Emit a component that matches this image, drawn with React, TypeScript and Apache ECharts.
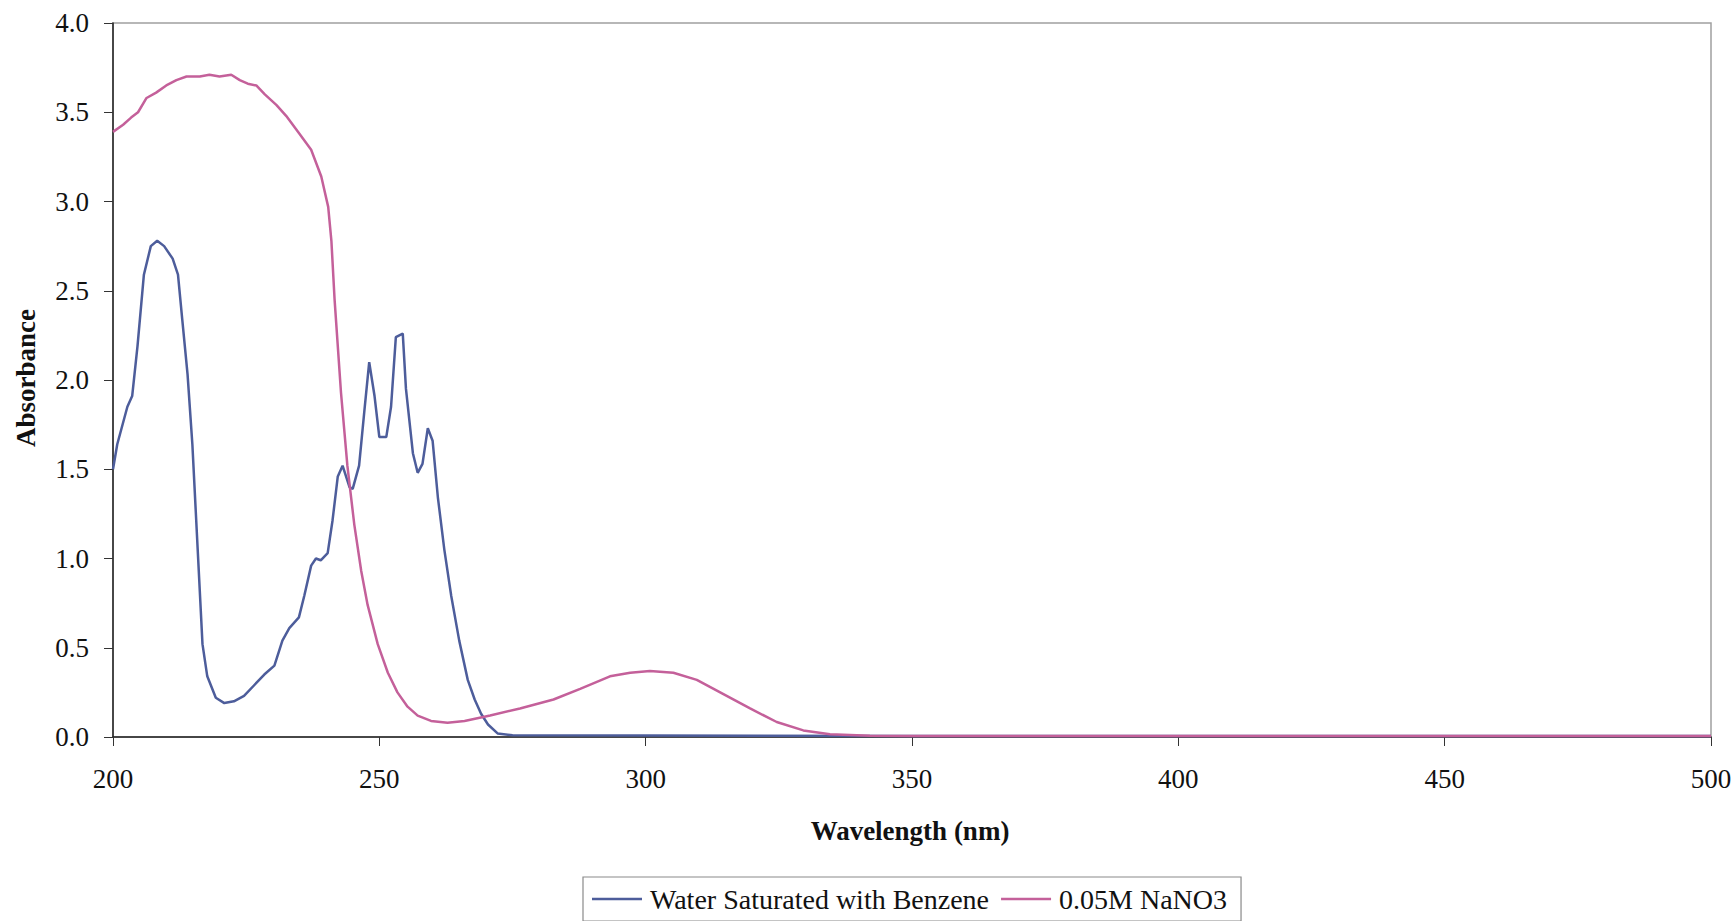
import React, { useEffect, useRef } from "react";
import * as echarts from "echarts";

const seriesNames = ["Water Saturated with Benzene", "0.05M NaNO3"];

const benzeneWl = [
  200, 200.8, 202.7, 203.6, 204.6, 205.8, 207.1, 208.3, 209.6, 211.2, 212.2, 213.0, 214.0, 214.9,
  215.9, 216.8, 217.7, 219.3, 220.9, 222.7, 224.6, 226.5, 228.4, 230.3, 231.8, 233.1, 234.9, 235.9,
  237.2, 238.1, 239.0, 240.3, 241.2, 242.2, 243.1, 244.4, 245.0, 246.2, 247.2, 248.1, 249.1, 250.0,
  251.3, 252.2, 253.1, 254.4, 255.0, 256.3, 257.2, 258.1, 259.1, 260.0, 261.0, 262.2, 263.5, 265.0,
  266.6, 267.9, 269.1, 270.4, 272.2, 275, 300, 350, 400, 450, 500,
];
const benzeneAbs = [
  1.5, 1.64, 1.85, 1.91, 2.19, 2.59, 2.75, 2.78, 2.75, 2.68, 2.59, 2.34, 2.03, 1.64,
  1.05, 0.52, 0.34, 0.22, 0.19, 0.2, 0.23, 0.29, 0.35, 0.4, 0.54, 0.61, 0.67, 0.79,
  0.96, 1.0, 0.99, 1.03, 1.21, 1.46, 1.52, 1.4, 1.39, 1.52, 1.83, 2.1, 1.91, 1.68,
  1.68, 1.85, 2.24, 2.26, 1.95, 1.59, 1.48, 1.53, 1.73, 1.66, 1.34, 1.05, 0.79, 0.54,
  0.32, 0.21, 0.13, 0.07, 0.02, 0.01, 0.008, 0.006, 0.006, 0.006, 0.006,
];

const nitrateWl = [
  200, 201.9, 203.4, 204.7, 206.3, 208.1, 210.0, 211.9, 213.8, 216.3, 218.1, 220.0, 222.2, 223.8,
  225.3, 226.9, 228.5, 230.7, 232.5, 235.0, 237.2, 239.1, 240.4, 241.0, 241.6, 242.8, 244.0, 245.3,
  246.6, 247.8, 249.7, 251.6, 253.4, 255.3, 257.2, 259.7, 262.8, 266.0, 270.8, 276.4, 282.7, 287.7,
  293.3, 297.1, 300.8, 305.2, 309.6, 314.6, 319.6, 324.6, 329.6, 334.6, 342.1, 350, 400, 450, 500,
];
const nitrateAbs = [
  3.39, 3.43, 3.47, 3.5, 3.58, 3.61, 3.65, 3.68, 3.7, 3.7, 3.71, 3.7, 3.71, 3.68,
  3.66, 3.65, 3.6, 3.54, 3.48, 3.38, 3.29, 3.14, 2.97, 2.78, 2.45, 1.93, 1.52, 1.19,
  0.93, 0.74, 0.52, 0.36, 0.25, 0.17, 0.12, 0.09, 0.08, 0.09, 0.12, 0.16, 0.21, 0.27,
  0.34, 0.36, 0.37, 0.36, 0.32, 0.24, 0.16, 0.084, 0.037, 0.015, 0.007, 0.005, 0.006, 0.006, 0.005,
];

const FONT = "Liberation Serif";

export default function App() {
  const ref = useRef<HTMLDivElement>(null);
  useEffect(() => {
    if (!ref.current) return;
    const chart = echarts.init(ref.current, undefined, { renderer: "svg" });
    const pairs = (xs: number[], ys: number[]) => xs.map((x, i) => [x, ys[i]]);
    chart.setOption({
      animation: false,
      backgroundColor: "#ffffff",
      textStyle: { fontFamily: FONT },
      grid: {
        left: 113,
        right: 25,
        top: 23,
        bottom: 184,
        show: true,
        borderColor: "#a0a0a0",
        borderWidth: 1.5,
      },
      legend: {
        left: 583,
        top: 877,
        orient: "horizontal",
        icon: "path://M0,0 L50,0 L50,2.5 L0,2.5 Z",
        itemWidth: 50,
        itemHeight: 28,
        itemGap: 12,
        padding: [8, 14, 8, 9],
        borderColor: "#8a8a8a",
        borderWidth: 1.2,
        textStyle: { fontFamily: FONT, fontSize: 28, color: "#111", padding: [0, 0, 0, 3] },
        data: seriesNames,
      },
      xAxis: {
        type: "value",
        min: 200,
        max: 500,
        interval: 50,
        splitLine: { show: false },
        axisLine: { show: true, onZero: false, lineStyle: { color: "#222", width: 1.5 } },
        axisTick: { show: true, length: 9, lineStyle: { color: "#333" } },
        axisLabel: { margin: 28, fontFamily: FONT, fontSize: 27, color: "#111" },
      },
      yAxis: {
        type: "value",
        min: 0,
        max: 4,
        interval: 0.5,
        splitLine: { show: false },
        axisLine: { show: true, onZero: false, lineStyle: { color: "#222", width: 1.5 } },
        axisTick: { show: true, length: 9, lineStyle: { color: "#333" } },
        axisLabel: {
          margin: 24,
          fontFamily: FONT,
          fontSize: 27,
          color: "#111",
          formatter: (v: number) => v.toFixed(1),
        },
      },
      graphic: [
        {
          type: "text",
          x: 910,
          y: 831,
          style: {
            text: "Wavelength (nm)",
            font: `bold 27px "${FONT}"`,
            fill: "#111",
            textAlign: "center",
            textVerticalAlign: "middle",
          },
        },
        {
          type: "text",
          x: 26,
          y: 378,
          rotation: Math.PI / 2,
          style: {
            text: "Absorbance",
            font: `bold 27px "${FONT}"`,
            fill: "#111",
            textAlign: "center",
            textVerticalAlign: "middle",
          },
        },
      ],
      series: [
        {
          name: seriesNames[0],
          type: "line",
          data: pairs(benzeneWl, benzeneAbs),
          symbol: "none",
          smooth: false,
          lineStyle: { color: "#4d5d9b", width: 2.5 },
          itemStyle: { color: "#4d5d9b" },
        },
        {
          name: seriesNames[1],
          type: "line",
          data: pairs(nitrateWl, nitrateAbs),
          symbol: "none",
          smooth: false,
          lineStyle: { color: "#c4609a", width: 2.5 },
          itemStyle: { color: "#c4609a" },
        },
      ],
    });
    return () => chart.dispose();
  }, []);
  return (
    <div
      ref={ref}
      style={{ position: "fixed", left: 0, top: 0, width: 1736, height: 921, background: "#fff" }}
    />
  );
}
